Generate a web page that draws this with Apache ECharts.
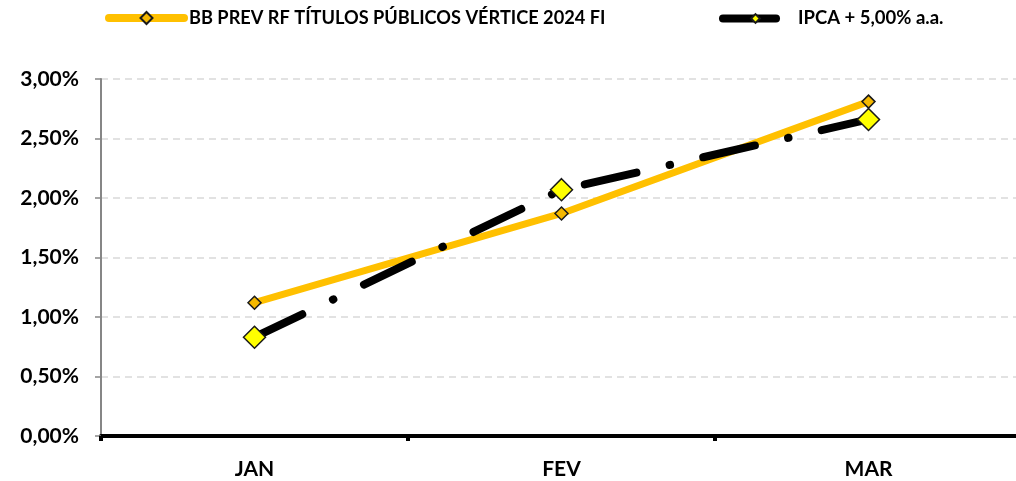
<!DOCTYPE html>
<html><head><meta charset="utf-8">
<script src="https://cdn.jsdelivr.net/npm/echarts@6/dist/echarts.min.js"></script>
<style>html,body{margin:0;padding:0;background:#fff;overflow:hidden}#c{width:1022px;height:481px}</style>
</head><body><div id="c"></div>
<script>
var categories = ['JAN', 'FEV', 'MAR'];
var bbValues = [1.12, 1.87, 2.81];
var ipcaValues = [0.83, 2.07, 2.66];
var seriesNames = ['BB PREV RF TÍTULOS PÚBLICOS VÉRTICE 2024 FI', 'IPCA + 5,00% a.a.'];

var chart = echarts.init(document.getElementById('c'), null, {renderer: 'canvas'});
var fontFam = 'Lato, "Open Sans", sans-serif';
chart.setOption({
  animation: false,
  backgroundColor: '#ffffff',
  grid: {left: 101, top: 79, right: 0, height: 357, containLabel: false},
  legend: [
    {data: [seriesNames[0]], left: 100, top: 4, itemWidth: 75, itemHeight: 15,
     lineStyle: {width: 8, cap: 'round'},
     textStyle: {fontFamily: fontFam, fontWeight: 'bold', fontSize: 18.2, color: '#000'}},
    {data: [seriesNames[1]], left: 714, top: 4, itemWidth: 65, itemHeight: 11,
     lineStyle: {width: 8, cap: 'round'},
     textStyle: {fontFamily: fontFam, fontWeight: 'bold', fontSize: 18.5, color: '#000', padding: [0, 0, 0, 5]}}
  ],
  xAxis: {
    type: 'category', data: categories, boundaryGap: true,
    axisLine: {lineStyle: {color: '#000', width: 4}},
    axisTick: {show: true, length: 5, lineStyle: {color: '#000', width: 4}},
    axisLabel: {margin: 23, fontFamily: fontFam, fontWeight: 'bold', fontSize: 21, color: '#000'},
    splitLine: {show: false}
  },
  yAxis: {
    type: 'value', min: 0, max: 3, interval: 0.5,
    axisLine: {show: true, lineStyle: {color: '#868686', width: 2}},
    axisTick: {show: true, length: 6, lineStyle: {color: '#868686', width: 1.5}},
    axisLabel: {margin: 22, fontFamily: fontFam, fontWeight: 'bold', fontSize: 21, color: '#000',
      formatter: function (v) { return v.toFixed(2).replace('.', ',') + '%'; }},
    splitLine: {show: true, lineStyle: {color: '#d9d9d9', width: 1.5, type: [7, 5]}}
  },
  series: [
    {name: seriesNames[0], type: 'line', data: bbValues, z: 2,
     symbol: 'diamond', symbolSize: 13,
     lineStyle: {color: '#FFC000', width: 7, cap: 'round'},
     itemStyle: {color: '#F5B800', borderColor: '#1a1a1a', borderWidth: 1.5}},
    {name: seriesNames[1], type: 'line', data: ipcaValues, z: 3,
     symbol: 'diamond', symbolSize: 22,
     lineStyle: {color: '#000', width: 8, cap: 'round', type: [53, 34, 0.5, 34], dashOffset: 0},
     itemStyle: {color: '#FFFF00', borderColor: '#1a1a1a', borderWidth: 1.5}}
  ]
});
</script></body></html>
